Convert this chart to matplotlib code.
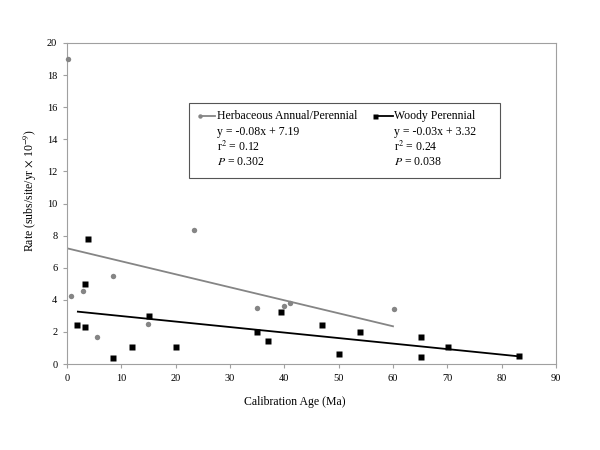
import matplotlib

matplotlib.use("Agg")
import matplotlib.pyplot as plt
import numpy as np

plt.rcParams["font.family"] = ["Liberation Serif", "DejaVu Serif"]
plt.rcParams["mathtext.fontset"] = "stix"

# herbaceous annual/perennial (gray circles)
HERB_X = [0.2, 0.7, 3.0, 5.5, 8.5, 14.9, 23.3, 35.0, 40.0, 41.0, 60.1]
HERB_Y = [19.0, 4.25, 4.53, 1.7, 5.5, 2.5, 8.37, 3.47, 3.63, 3.78, 3.45]
HERB_FIT = (-0.081, 7.21)  # slope, intercept as drawn
HERB_RANGE = (0, 60)

# woody perennial (black squares)
WOODY_X = [1.9, 3.3, 3.4, 3.9, 8.5, 12.0, 15.0, 20.0, 35.0, 37.0, 39.4,
           47.0, 50.1, 54.0, 65.1, 65.1, 70.1, 83.1]
WOODY_Y = [2.41, 4.98, 2.3, 7.8, 0.35, 1.06, 2.97, 1.06, 2.0, 1.41, 3.26,
           2.45, 0.6, 1.97, 1.7, 0.42, 1.06, 0.48]
WOODY_FIT = (-0.0343, 3.33)
WOODY_RANGE = (2, 83)

HERB_LABEL = "Herbaceous Annual/Perennial"
WOODY_LABEL = "Woody Perennial"
HERB_STATS = ["y = -0.08x + 7.19", r"r$^2$ = 0.12", r"$P$ = 0.302"]
WOODY_STATS = ["y = -0.03x + 3.32", r"r$^2$ = 0.24", r"$P$ = 0.038"]

GRAY = "#858585"
W, H = 600, 450

fig = plt.figure(figsize=(6, 4.5), dpi=100)
ax = fig.add_axes([67 / W, 1 - 364 / H, (556 - 67) / W, (364 - 43) / H])

# fit lines
for (m, b), (x0, x1), col in [(HERB_FIT, HERB_RANGE, GRAY), (WOODY_FIT, WOODY_RANGE, "black")]:
    xs = np.array([x0, x1])
    ax.plot(xs, m * xs + b, color=col, lw=1.3, zorder=2)

ax.plot(HERB_X, HERB_Y, "o", color=GRAY, ms=3.9, mec="none", zorder=3, clip_on=False)
ax.plot(WOODY_X, WOODY_Y, "s", color="black", ms=4.4, mec="none", zorder=3, clip_on=False)

ax.set_xlim(0, 90)
ax.set_ylim(0, 20)
ax.set_xticks(range(0, 91, 10))
ax.set_yticks(range(0, 21, 2))
for s in ax.spines.values():
    s.set_color("#a0a0a0")
    s.set_linewidth(0.8)
ax.tick_params(labelsize=7.5, color="#a0a0a0", length=3, width=0.8, pad=4)
ax.set_xlabel("Calibration Age (Ma)", fontsize=8.5)
ax.xaxis.set_label_coords((295 - 67) / (556 - 67), -0.1)
ax.set_ylabel(r"Rate (subs/site/yr $\times$ 10$^{-9}$)", fontsize=8.5)
ax.yaxis.set_label_coords(-0.058, 0.54)

# legend box drawn by hand
px = lambda x, y: (x / W, 1 - y / H)
box = plt.Rectangle(px(189, 178), (500 - 189) / W, (178 - 103) / H,
                    transform=fig.transFigure, fill=False, ec="#555555", lw=0.8)
fig.add_artist(box)

fig.add_artist(plt.Line2D([202 / W, 215 / W], [1 - 116 / H] * 2, color=GRAY, lw=1.3,
                          transform=fig.transFigure))
fig.add_artist(plt.Line2D([200 / W], [1 - 116 / H], marker="o", color=GRAY, ms=3.2,
                          mec="none", transform=fig.transFigure))
fig.add_artist(plt.Line2D([377 / W, 393 / W], [1 - 116 / H] * 2, color="black", lw=1.3,
                          transform=fig.transFigure))
fig.add_artist(plt.Line2D([375 / W], [1 - 116 / H], marker="s", color="black", ms=3.6,
                          mec="none", transform=fig.transFigure))

fig.text(*px(217, 116), HERB_LABEL, fontsize=8.5, va="center")
fig.text(*px(394, 116), WOODY_LABEL, fontsize=8.5, va="center")
for i, (a, b) in enumerate(zip(HERB_STATS, WOODY_STATS)):
    y = 132 + 15 * i
    fig.text(*px(217, y), a, fontsize=8.5, va="center")
    fig.text(*px(394, y), b, fontsize=8.5, va="center")

fig.savefig("out.png", dpi=100)
